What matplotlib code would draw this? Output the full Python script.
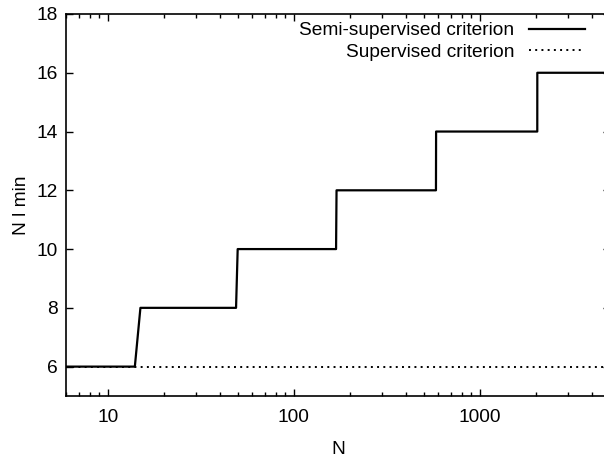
import matplotlib
matplotlib.use("Agg")
import matplotlib.pyplot as plt
from matplotlib.ticker import LogLocator, FixedLocator, NullFormatter, FuncFormatter

plt.rcParams['font.family'] = ['Liberation Sans', 'DejaVu Sans']

# step curve
n_semi = [6, 14, 15, 49, 50, 169, 170, 582, 583, 2040, 2041, 5000]
nlmin_semi = [6, 6, 8, 8, 10, 10, 12, 12, 14, 14, 16, 16]

n_sup = [6, 5000]
nlmin_sup = [6, 6]

labels = ['Semi-supervised criterion', 'Supervised criterion']
y_ticks = [6, 8, 10, 12, 14, 16, 18]
x_ticks = [10, 100, 1000]

fs = 13.8
fig = plt.figure(figsize=(6.04, 4.59), dpi=100)
# right spine falls just outside the picture, as in the original
ax = fig.add_axes([66.4 / 604, 63 / 459, 543.3 / 604, 382 / 459])

ax.plot(n_semi, nlmin_semi, color='black', lw=1.6, label=labels[0])
ax.plot(n_sup, nlmin_sup, color='black', lw=1.4, linestyle=(0, (1, 2.2)), label=labels[1])

ax.set_xscale('log')
ax.set_xlim(6, 5000)
ax.set_ylim(5, 18)
ax.xaxis.set_major_locator(FixedLocator(x_ticks))
ax.xaxis.set_major_formatter(FuncFormatter(lambda v, p: '%d' % v))
ax.xaxis.set_minor_locator(LogLocator(base=10, subs=range(2, 10)))
ax.xaxis.set_minor_formatter(NullFormatter())
ax.set_yticks(y_ticks)

ax.tick_params(which='both', direction='in', top=True, right=True, width=1.0)
ax.tick_params(which='major', length=5, labelsize=fs)
ax.tick_params(which='minor', length=3)
ax.tick_params(axis='x', which='major', pad=9)
ax.tick_params(axis='y', which='major', pad=6)
for s in ax.spines.values():
    s.set_linewidth(1.2)

ax.set_xlabel('N', fontsize=fs, labelpad=11)
ax.set_ylabel('N l min', fontsize=fs, labelpad=5)

ax.legend(loc='upper right', bbox_to_anchor=(585 / 604, (459 - 22) / 459),
          bbox_transform=fig.transFigure, frameon=False, markerfirst=False,
          fontsize=fs, handlelength=2.9, handletextpad=0.8, labelspacing=0.2,
          borderpad=0, borderaxespad=0)

fig.savefig('out.png', dpi=100)
